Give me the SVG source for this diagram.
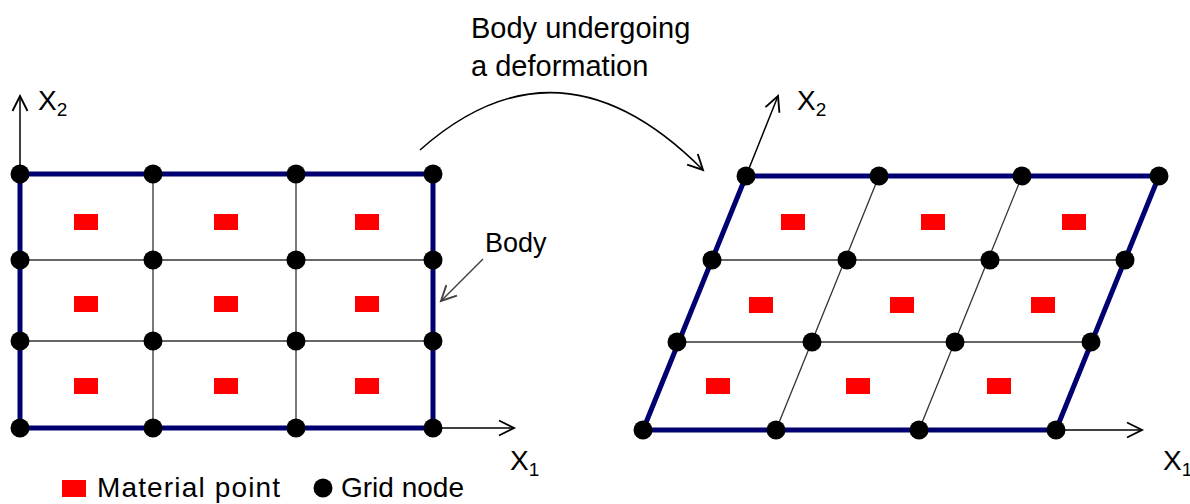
<svg xmlns="http://www.w3.org/2000/svg" width="1190" height="504" viewBox="0 0 1190 504">
<style>
.outer{fill:none;stroke:#000070;stroke-width:5;stroke-linejoin:round}
.inner{fill:none;stroke:#333;stroke-width:1.3}
.node{fill:#000}
.mp{fill:#ff0000}
.axis{fill:none;stroke:#000;stroke-width:1.5}
.t{font-family:"Liberation Sans",Arial,sans-serif;fill:#000}
</style>
<defs>
<marker id="ah" markerUnits="userSpaceOnUse" markerWidth="20" markerHeight="20" viewBox="-14 -8 16 16" refX="0" refY="0" orient="auto">
<path d="M-12,-6 L0,0 L-12,6" fill="none" stroke="#000" stroke-width="1.5"/>
</marker>
<marker id="ahg" markerUnits="userSpaceOnUse" markerWidth="20" markerHeight="20" viewBox="-14 -8 16 16" refX="0" refY="0" orient="auto">
<path d="M-12,-6 L0,0 L-12,6" fill="none" stroke="#404040" stroke-width="1.5"/>
</marker>
</defs>
<rect width="1190" height="504" fill="#fff"/>

<g id="connectors">
<line class="axis" x1="20" y1="174" x2="20" y2="96" marker-end="url(#ah)"/>
<line class="axis" x1="433" y1="428" x2="514" y2="428" marker-end="url(#ah)"/>
<line class="axis" x1="746" y1="176" x2="778" y2="96" marker-end="url(#ah)"/>
<line class="axis" x1="1056" y1="430" x2="1142" y2="430" marker-end="url(#ah)"/>
<path class="axis" d="M420,150 Q560,26 703,170" marker-end="url(#ah)"/>
<line x1="483" y1="259" x2="441" y2="301" stroke="#404040" stroke-width="1.5" marker-end="url(#ahg)"/>
</g>

<g id="left-body">
<line class="inner" x1="153" y1="174" x2="153" y2="428"/>
<line class="inner" x1="296" y1="174" x2="296" y2="428"/>
<line class="inner" x1="20" y1="260" x2="433" y2="260"/>
<line class="inner" x1="20" y1="341" x2="433" y2="341"/>
<rect class="outer" x="20" y="174" width="413" height="254"/>
<g id="left-material-points">
<rect class="mp" x="74" y="214" width="24" height="16"/>
<rect class="mp" x="214" y="214" width="24" height="16"/>
<rect class="mp" x="355" y="214" width="24" height="16"/>
<rect class="mp" x="74" y="296" width="24" height="16"/>
<rect class="mp" x="214" y="296" width="24" height="16"/>
<rect class="mp" x="355" y="296" width="24" height="16"/>
<rect class="mp" x="74" y="378" width="24" height="16"/>
<rect class="mp" x="214" y="378" width="24" height="16"/>
<rect class="mp" x="355" y="378" width="24" height="16"/>
</g>
<g id="left-grid-nodes">
<circle class="node" cx="20" cy="174" r="9.5"/><circle class="node" cx="153" cy="174" r="9.5"/><circle class="node" cx="296" cy="174" r="9.5"/><circle class="node" cx="433" cy="174" r="9.5"/>
<circle class="node" cx="20" cy="260" r="9.5"/><circle class="node" cx="153" cy="260" r="9.5"/><circle class="node" cx="296" cy="260" r="9.5"/><circle class="node" cx="433" cy="260" r="9.5"/>
<circle class="node" cx="20" cy="341" r="9.5"/><circle class="node" cx="153" cy="341" r="9.5"/><circle class="node" cx="296" cy="341" r="9.5"/><circle class="node" cx="433" cy="341" r="9.5"/>
<circle class="node" cx="20" cy="428" r="9.5"/><circle class="node" cx="153" cy="428" r="9.5"/><circle class="node" cx="296" cy="428" r="9.5"/><circle class="node" cx="433" cy="428" r="9.5"/>
</g>
</g>

<g id="right-body">
<line class="inner" x1="776" y1="430" x2="879" y2="176"/>
<line class="inner" x1="919" y1="430" x2="1022" y2="176"/>
<line class="inner" x1="712" y1="260" x2="1125" y2="260"/>
<line class="inner" x1="678" y1="342" x2="1091" y2="342"/>
<polygon class="outer" points="643,430 1056,430 1159,176 746,176"/>
<g id="right-material-points">
<rect class="mp" x="781" y="214" width="24" height="16"/>
<rect class="mp" x="921" y="214" width="24" height="16"/>
<rect class="mp" x="1062" y="214" width="24" height="16"/>
<rect class="mp" x="749" y="297" width="24" height="16"/>
<rect class="mp" x="890" y="297" width="24" height="16"/>
<rect class="mp" x="1031" y="297" width="24" height="16"/>
<rect class="mp" x="706" y="378" width="24" height="16"/>
<rect class="mp" x="846" y="378" width="24" height="16"/>
<rect class="mp" x="987" y="378" width="24" height="16"/>
</g>
<g id="right-grid-nodes">
<circle class="node" cx="746" cy="176" r="9.5"/><circle class="node" cx="879" cy="176" r="9.5"/><circle class="node" cx="1022" cy="176" r="9.5"/><circle class="node" cx="1159" cy="176" r="9.5"/>
<circle class="node" cx="712" cy="260" r="9.5"/><circle class="node" cx="847" cy="260" r="9.5"/><circle class="node" cx="990" cy="260" r="9.5"/><circle class="node" cx="1125" cy="260" r="9.5"/>
<circle class="node" cx="677" cy="342" r="9.5"/><circle class="node" cx="812" cy="342" r="9.5"/><circle class="node" cx="955" cy="342" r="9.5"/><circle class="node" cx="1091" cy="342" r="9.5"/>
<circle class="node" cx="643" cy="430" r="9.5"/><circle class="node" cx="776" cy="430" r="9.5"/><circle class="node" cx="919" cy="430" r="9.5"/><circle class="node" cx="1056" cy="430" r="9.5"/>
</g>
</g>

<g id="labels">
<text class="t" x="38" y="110" font-size="28">X<tspan font-size="19" dy="6">2</tspan></text>
<text class="t" x="797" y="110" font-size="28">X<tspan font-size="19" dy="6">2</tspan></text>
<text class="t" x="510" y="470" font-size="28">X<tspan font-size="19" dy="6">1</tspan></text>
<text class="t" x="1163" y="470" font-size="28">X<tspan font-size="19" dy="6">1</tspan></text>
<text class="t" x="471" y="38" font-size="29">Body undergoing</text>
<text class="t" x="471" y="76" font-size="29">a deformation</text>
<text class="t" x="485" y="252" font-size="27">Body</text>
</g>

<g id="legend">
<rect class="mp" x="62" y="480" width="24" height="17"/>
<text class="t" x="97" y="497" font-size="28" textLength="183">Material point</text>
<circle class="node" cx="323" cy="488" r="9.5"/>
<text class="t" x="341" y="497" font-size="28">Grid node</text>
</g>
</svg>
